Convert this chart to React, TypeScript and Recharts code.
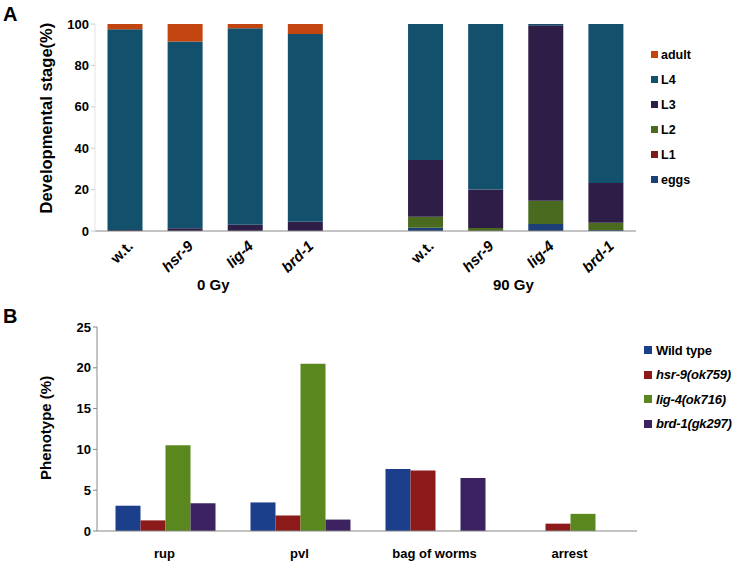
import React from 'react';
import { BarChart, Bar, XAxis, YAxis } from 'recharts';

// panel A: developmental stage after irradiation
const stageCategories = ['w.t.', 'hsr-9', 'lig-4', 'brd-1', '', 'w.t.', 'hsr-9', 'lig-4', 'brd-1'];
const eggs = [0, 0, 0, 0, 0, 1.6, 0, 3.4, 0.5];
const l1 = [0, 0, 0, 0, 0, 0, 0, 0, 0];
const l2 = [0, 0, 0, 0, 0, 5.3, 1.5, 11.2, 3.5];
const l3 = [0.5, 1.3, 3, 4.5, 0, 27.4, 18.5, 84.8, 19.2];
const l4 = [97, 90.2, 95, 90.7, 0, 65.7, 80, 0.6, 76.8];
const adult = [2.5, 8.5, 2, 4.8, 0, 0, 0, 0, 0];
const stageTicks = [0, 20, 40, 60, 80, 100];
const doseLabels = ['0 Gy', '90 Gy'];

// panel B: phenotypes
const phenoCategories = ['rup', 'pvl', 'bag of worms', 'arrest'];
const wildType = [3.1, 3.5, 7.6, 0];
const hsr9 = [1.3, 1.9, 7.4, 0.9];
const lig4 = [10.5, 20.5, 0, 2.1];
const brd1 = [3.4, 1.4, 6.5, 0];
const phenoTicks = [0, 5, 10, 15, 20, 25];

const stageData = stageCategories.map((name, i) => ({
  name,
  eggs: eggs[i],
  L1: l1[i],
  L2: l2[i],
  L3: l3[i],
  L4: l4[i],
  adult: adult[i],
}));

const phenoData = phenoCategories.map((name, i) => ({
  name,
  wt: wildType[i],
  hsr: hsr9[i],
  lig: lig4[i],
  brd: brd1[i],
}));

const FONT = '"Liberation Sans", Arial, sans-serif';

const stageSeries = [
  { key: 'eggs', color: '#1d3f78' },
  { key: 'L1', color: '#7a1c1c' },
  { key: 'L2', color: '#4a6b1f' },
  { key: 'L3', color: '#2e1d47' },
  { key: 'L4', color: '#13506b' },
  { key: 'adult', color: '#c2440f' },
];

const phenoSeries = [
  { key: 'wt', name: 'Wild type', color: '#1b3f8a', italic: false },
  { key: 'hsr', name: 'hsr-9(ok759)', color: '#8c1a1a', italic: true },
  { key: 'lig', name: 'lig-4(ok716)', color: '#5a881f', italic: true },
  { key: 'brd', name: 'brd-1(gk297)', color: '#3c2260', italic: true },
];

const StageTick = (props: any) => {
  const { x, y, payload } = props;
  const v = payload.value;
  if (!v) return null;
  const ax = x + 9;
  const ay = y + 8;
  return (
    <text
      x={ax}
      y={ay}
      transform={`rotate(-45 ${ax} ${ay})`}
      textAnchor="end"
      fontFamily={FONT}
      fontWeight="bold"
      fontStyle={v === 'w.t.' ? 'normal' : 'italic'}
      fontSize={15}
      fill="#000"
    >
      {v}
    </text>
  );
};

const tickStyle = { fontFamily: FONT, fontWeight: 'bold' as const, fontSize: 13, fill: '#000' };

const App: React.FC = () => {
  return (
    <div style={{ position: 'absolute', left: 0, top: 0, width: 738, height: 564, background: '#fff', fontFamily: FONT }}>
      <div style={{ position: 'absolute', left: 3, top: 3, fontSize: 20, fontWeight: 'bold' }}>A</div>
      <div style={{ position: 'absolute', left: 3, top: 305, fontSize: 20, fontWeight: 'bold' }}>B</div>

      <div style={{ position: 'absolute', left: 0, top: 0 }}>
        <BarChart
          width={738}
          height={300}
          data={stageData}
          margin={{ top: 24, right: 102, left: 0, bottom: 39 }}
          barCategoryGap={12.5}
        >
          <XAxis
            dataKey="name"
            tick={<StageTick />}
            tickLine={false}
            axisLine={{ stroke: '#888' }}
            interval={0}
          />
          <YAxis
            width={95}
            domain={[0, 100]}
            ticks={stageTicks}
            tick={tickStyle}
            tickLine={{ stroke: '#ccc' }}
            tickSize={4}
            axisLine={{ stroke: '#e4e4e4' }}
            label={{
              value: 'Developmental stage(%)',
              angle: -90,
              position: 'insideLeft',
              dx: 41,
              dy: 86,
              style: { fontFamily: FONT, fontWeight: 'bold', fontSize: 16.5, fill: '#000' },
            }}
          />
          {stageSeries.map((s) => (
            <Bar key={s.key} dataKey={s.key} stackId="a" fill={s.color} isAnimationActive={false} />
          ))}
        </BarChart>
      </div>
      <div style={{ position: 'absolute', left: 651, top: 42, fontWeight: 'bold', fontSize: 12.5, whiteSpace: 'nowrap' }}>
        {[...stageSeries].reverse().map((s) => (
          <div key={s.key} style={{ display: 'flex', alignItems: 'center', height: 25 }}>
            <span style={{ width: 7, height: 7, background: s.color, marginRight: 3 }} />
            {s.key}
          </div>
        ))}
      </div>
      <div style={{ position: 'absolute', left: 197, top: 276, fontSize: 15, fontWeight: 'bold' }}>{doseLabels[0]}</div>
      <div style={{ position: 'absolute', left: 493, top: 276, fontSize: 15, fontWeight: 'bold' }}>{doseLabels[1]}</div>

      <div style={{ position: 'absolute', left: 0, top: 300 }}>
        <BarChart
          width={738}
          height={264}
          data={phenoData}
          margin={{ top: 27, right: 101, left: 0, bottom: 3 }}
          barCategoryGap={18.5}
          barGap={0}
        >
          <XAxis
            dataKey="name"
            tick={tickStyle}
            tickLine={false}
            axisLine={{ stroke: '#888' }}
            interval={0}
            tickMargin={12}
          />
          <YAxis
            width={97}
            domain={[0, 25]}
            ticks={phenoTicks}
            tick={tickStyle}
            tickLine={{ stroke: '#888' }}
            tickSize={4}
            axisLine={{ stroke: '#888' }}
            label={{
              value: 'Phenotype (%)',
              angle: -90,
              position: 'insideLeft',
              dx: 41,
              dy: 51,
              style: { fontFamily: FONT, fontWeight: 'bold', fontSize: 15, fill: '#000' },
            }}
          />
          {phenoSeries.map((s) => (
            <Bar key={s.key} dataKey={s.key} name={s.name} fill={s.color} isAnimationActive={false} />
          ))}
        </BarChart>
      </div>
      <div style={{ position: 'absolute', left: 644, top: 338, fontWeight: 'bold', fontSize: 13, letterSpacing: -0.2, whiteSpace: 'nowrap' }}>
        {phenoSeries.map((s) => (
          <div key={s.key} style={{ display: 'flex', alignItems: 'center', height: 24.5 }}>
            <span style={{ width: 8, height: 8, background: s.color, marginRight: 4 }} />
            <span style={{ fontStyle: s.italic ? 'italic' : 'normal' }}>{s.name}</span>
          </div>
        ))}
      </div>
    </div>
  );
};

export default App;
